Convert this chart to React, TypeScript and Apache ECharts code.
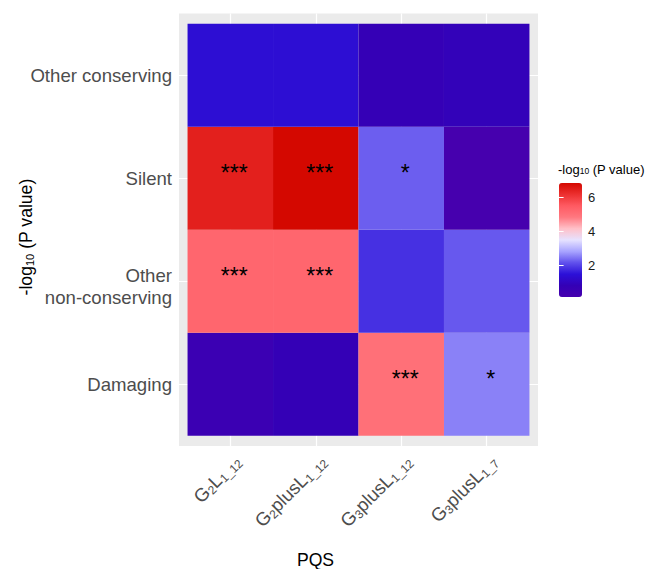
import React, { useEffect, useRef } from 'react';
import * as echarts from 'echarts';

const FONT = '"Liberation Sans", Arial, Helvetica, sans-serif';

// categories
const pqsLabels = ['G{s|2}L{s|1_12}', 'G{s|2}plusL{s|1_12}', 'G{s|3}plusL{s|1_12}', 'G{s|3}plusL{s|1_7}'];
const mutationLabels = ['{a|Damaging}', '{p| }\n{a|Other}\n{a|non-conserving}', '{a|Silent}', '{a|Other conserving}'];

// -log10(P value) per mutation class, columns in PQS order
const damaging = [0.54, 0.78, 5.02, 2.53];
const otherNonConserving = [5.24, 5.24, 1.8, 2.2];
const silent = [6.45, 6.86, 2.25, 0.11];
const otherConserving = [1.36, 1.36, 0.75, 0.85];

// significance marks
const damagingStars = ['', '', '***', '*'];
const otherNonConservingStars = ['***', '***', '', ''];
const silentStars = ['***', '***', '*', ''];
const otherConservingStars = ['', '', '', ''];

const colorTicks = [2, 4, 6];
const scaleMin = 0.11;
const scaleMax = 6.86;

const rows = [damaging, otherNonConserving, silent, otherConserving];
const starRows = [damagingStars, otherNonConservingStars, silentStars, otherConservingStars];

const data: number[][] = [];
const stars: string[] = [];
rows.forEach((row, yi) => {
  row.forEach((v, xi) => {
    data.push([xi, yi, v]);
    stars.push(starRows[yi][xi]);
  });
});

export default function App() {
  const ref = useRef<HTMLDivElement>(null);
  useEffect(() => {
    document.body.style.margin = '0';
    const chart = echarts.init(ref.current!, null, { renderer: 'svg' });
    const axisTextColor = '#4d4d4d';
    chart.setOption({
      animation: false,
      backgroundColor: '#ffffff',
      textStyle: { fontFamily: FONT },
      grid: [
        { left: 179, top: 13.5, width: 359, height: 432.5, show: true, backgroundColor: '#ebebeb', borderWidth: 0 },
        { left: 559, top: 183, width: 23, height: 114, show: false },
      ],
      xAxis: [
        {
          type: 'value', gridIndex: 0, min: -0.6, max: 3.6,
          axisLine: { show: false },
          axisTick: { show: true, customValues: [0, 1, 2, 3], length: 3.5, lineStyle: { color: '#333', width: 1.1 } },
          axisLabel: {
            customValues: [0, 1, 2, 3], rotate: 45, align: 'right', verticalAlign: 'top', margin: 5,
            fontSize: 18.6, fontFamily: FONT, color: axisTextColor, lineHeight: 21,
            formatter: (v: number) => pqsLabels[Math.round(v)] ?? '',
            rich: { s: { fontSize: 12, lineHeight: 11, verticalAlign: 'bottom', fontFamily: FONT, color: axisTextColor } },
          },
          splitLine: { show: true, lineStyle: { color: '#ffffff', width: 1.2 } },
        },
        { type: 'value', gridIndex: 1, min: 0, max: 1, show: false },
      ],
      yAxis: [
        {
          type: 'value', gridIndex: 0, min: -0.6, max: 3.6,
          axisLine: { show: false },
          axisTick: { show: true, customValues: [0, 1, 2, 3], length: 3.5, lineStyle: { color: '#333', width: 1.1 } },
          axisLabel: {
            customValues: [0, 1, 2, 3], margin: 7, fontSize: 18.6, fontFamily: FONT, color: axisTextColor,
            align: 'right',
            formatter: (v: number) => mutationLabels[Math.round(v)] ?? '',
            rich: {
              a: { fontSize: 18.6, lineHeight: 22.5, align: 'right', fontFamily: FONT, color: axisTextColor },
              p: { fontSize: 2, lineHeight: 11 },
            },
          },
          splitLine: { show: true, lineStyle: { color: '#ffffff', width: 1.2 } },
        },
        {
          type: 'value', gridIndex: 1, min: scaleMin, max: scaleMax, position: 'right', z: 10,
          axisLine: { show: false },
          axisTick: { show: true, inside: true, customValues: colorTicks, length: 4.6, lineStyle: { color: '#ffffff', width: 1 } },
          axisLabel: { customValues: colorTicks, margin: 6, fontSize: 13, fontFamily: FONT, color: '#1a1a1a' },
          splitLine: { show: false },
        },
        {
          type: 'value', gridIndex: 1, min: scaleMin, max: scaleMax, position: 'left', z: 10,
          axisLine: { show: false },
          axisTick: { show: true, inside: true, customValues: colorTicks, length: 4.6, lineStyle: { color: '#ffffff', width: 1 } },
          axisLabel: { show: false },
          splitLine: { show: false },
        },
      ],
      visualMap: {
        type: 'continuous',
        min: scaleMin, max: scaleMax, dimension: 2, seriesIndex: 0,
        orient: 'vertical', left: 559, top: 183, itemWidth: 23, itemHeight: 114,
        padding: 0, calculable: false, text: null, hoverLink: false,
        inRange: {
          color: ['#4600ae', '#3400b6', '#2c10d8', '#6050ec', '#a8a4ff', '#e6e2ff', '#ffc0c8', '#ff7880', '#ff5a62', '#ec3030', '#d40800'],
        },
      },
      graphic: [
        {
          type: 'text', x: 26, y: 237, rotation: Math.PI / 2,
          style: {
            text: '-log{s|10} (P value)', fontSize: 17.6, fontFamily: FONT, fill: '#000',
            align: 'center', verticalAlign: 'middle',
            rich: { s: { fontSize: 11, lineHeight: 10, verticalAlign: 'bottom', fontFamily: FONT, fill: '#000' } },
          },
        },
        {
          type: 'text', x: 315.5, y: 560,
          style: { text: 'PQS', fontSize: 17.6, fontFamily: FONT, fill: '#000', align: 'center', verticalAlign: 'middle' },
        },
        {
          type: 'text', x: 558, y: 169,
          style: {
            text: '-log{s|10} (P value)', fontSize: 13, fontFamily: FONT, fill: '#000',
            align: 'left', verticalAlign: 'middle',
            rich: { s: { fontSize: 8.5, lineHeight: 8, verticalAlign: 'bottom', fontFamily: FONT, fill: '#000' } },
          },
        },
      ],
      series: [
        {
          type: 'custom',
          xAxisIndex: 0, yAxisIndex: 0,
          data,
          encode: { x: 0, y: 1 },
          renderItem: (params: any, api: any) => {
            const x = api.value(0);
            const y = api.value(1);
            const p0 = api.coord([x - 0.5, y + 0.5]);
            const p1 = api.coord([x + 0.5, y - 0.5]);
            const star = stars[params.dataIndex];
            return {
              type: 'group',
              children: [
                {
                  type: 'rect',
                  shape: { x: p0[0], y: p0[1], width: p1[0] - p0[0], height: p1[1] - p0[1] },
                  style: { fill: api.visual('color') },
                },
                {
                  type: 'text',
                  style: {
                    text: star, x: (p0[0] + p1[0]) / 2 + 4, y: (p0[1] + p1[1]) / 2 - 5,
                    align: 'center', verticalAlign: 'middle', fontSize: 23, fontFamily: FONT, fill: '#000',
                  },
                },
              ],
            };
          },
        },
      ],
    });
    return () => chart.dispose();
  }, []);
  return <div ref={ref} style={{ width: 647, height: 569 }} />;
}
